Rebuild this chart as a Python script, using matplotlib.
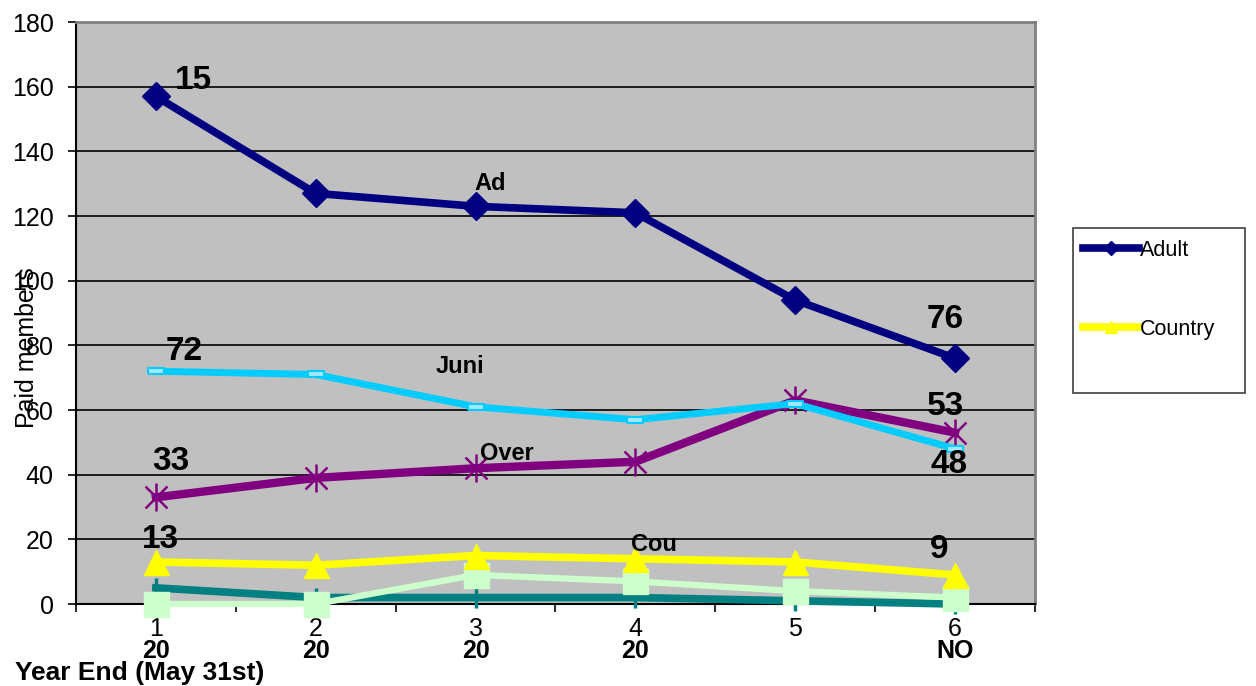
import matplotlib
matplotlib.use("Agg")
import matplotlib.pyplot as plt
from matplotlib.patches import Rectangle

# ==========================================================
# 1. DATA
# ==========================================================

years = [1, 2, 3, 4, 5, 6]
year_labels = ["1", "2", "3", "4", "5", "6"]
year_sublabels = ["20", "20", "20", "20", "", "NO"]

adult = [157, 127, 123, 121, 94, 76]
juniors = [72, 71, 61, 57, 62, 48]
over = [33, 39, 42, 44, 63, 53]
country = [13, 12, 15, 14, 13, 9]
other_a = [5, 2, 2, 2, 1, 0]      # teal series
other_b = [0, 0, 9, 7, 4, 2]      # light green series

# value labels (as shown, truncated) and series name labels
value_labels = ["15", "72", "33", "13", "76", "53", "48", "9"]
value_pos = [(1.12, 162), (1.06, 78), (0.98, 44), (0.91, 20),
             (5.94, 88), (5.94, 61), (5.96, 43), (5.90, 17)]
value_ha = ["left", "left", "left", "left", "center", "center", "center", "center"]

name_labels = ["Ad", "Juni", "Over", "Cou"]
name_pos = [(2.99, 130), (2.75, 73.5), (3.03, 46.5), (3.97, 18.5)]

# ==========================================================
# 2. FIGURE SETUP
# ==========================================================

plt.rcParams["font.family"] = ["Liberation Sans", "DejaVu Sans"]

fig = plt.figure(figsize=(12.56, 6.86), dpi=100)
ax = fig.add_axes([0.0605, 0.1195, 0.7635, 0.8484])
ax.set_facecolor("#C0C0C0")

ax.set_xlim(0.5, 6.5)
ax.set_ylim(0, 180)
ax.set_yticks(range(0, 181, 20))
ax.yaxis.grid(True, color="black", linewidth=1.2)
ax.set_axisbelow(True)

for side in ["top", "right"]:
    ax.spines[side].set_color("#808080")
    ax.spines[side].set_linewidth(2)
ax.spines["left"].set_linewidth(1.5)
ax.spines["bottom"].set_linewidth(1.5)

ax.tick_params(axis="y", direction="out", length=6, width=1.2, pad=10, labelsize=18)

# category boundaries get the tick marks, centers get the labels
ax.set_xticks([y + 0.5 for y in [0] + years])
ax.set_xticklabels([])
ax.tick_params(axis="x", which="major", direction="out", length=6, width=1.2)
ax.set_xticks(years, minor=True)
ax.set_xticklabels(year_labels, minor=True)
ax.tick_params(axis="x", which="minor", length=0, pad=9, labelsize=18)

for x, lab in zip(years, year_sublabels):
    ax.text(x, -0.080, lab, transform=ax.get_xaxis_transform(),
            ha="center", va="center", fontsize=18, fontweight="bold")

# ==========================================================
# 3. SERIES
# ==========================================================

ax.plot(years, other_a, color="#008080", linewidth=5.5, marker="|",
        markersize=14, markeredgewidth=2.5, zorder=3, clip_on=False)
ax.plot(years, other_b, color="#CCFFCC", linewidth=4.5, marker="s",
        markersize=18, markeredgecolor="#CCFFCC", zorder=4, clip_on=False)
country_line, = ax.plot(years, country, color="#FFFF00", linewidth=5.5, marker="^",
                        markersize=18, zorder=5, label="Country")
ax.plot(years, over, color="#800080", linewidth=6, marker="x",
        markersize=16, markeredgewidth=1.8, zorder=6)
ax.plot(years, over, linestyle="none", color="#800080", marker="|",
        markersize=20, markeredgewidth=1.8, zorder=6)
rect_marker = [(-1, -0.35), (1, -0.35), (1, 0.35), (-1, 0.35), (-1, -0.35)]
ax.plot(years, juniors, color="#00CCFF", linewidth=5, marker=rect_marker,
        markersize=12, markerfacecolor="#A0E8FF", markeredgecolor="#00CCFF",
        markeredgewidth=1.5, zorder=7)
adult_line, = ax.plot(years, adult, color="#000080", linewidth=5.5, marker="D",
                      markersize=14, zorder=8, label="Adult")

# ==========================================================
# 4. LABELS
# ==========================================================

for txt, (x, y), ha in zip(value_labels, value_pos, value_ha):
    ax.text(x, y, txt, ha=ha, va="center", fontsize=24, fontweight="bold", zorder=10)

for txt, (x, y) in zip(name_labels, name_pos):
    ax.text(x, y, txt, ha="left", va="center", fontsize=17, fontweight="bold", zorder=10)

fig.text(0.0215, 0.4927, "Paid members", rotation=90, ha="center", va="center", fontsize=18)
fig.text(0.012, 0.019, "Year End (May 31st)", ha="left", va="center",
         fontsize=19, fontweight="bold")

# legend box (Excel style, fixed size with two visible entries)
fig.patches.append(Rectangle((0.8543, 0.427), 0.137, 0.2405, transform=fig.transFigure,
                             facecolor="white", edgecolor="#404040", linewidth=1.2, zorder=1))
fig.legend(handles=[adult_line, country_line], loc="upper left",
           bbox_to_anchor=(0.8535, 0.666), frameon=False, fontsize=15.5,
           handlelength=2.6, handletextpad=0.05, labelspacing=2.7,
           borderpad=0, markerscale=0.5)

plt.savefig("out.png", dpi=100)
